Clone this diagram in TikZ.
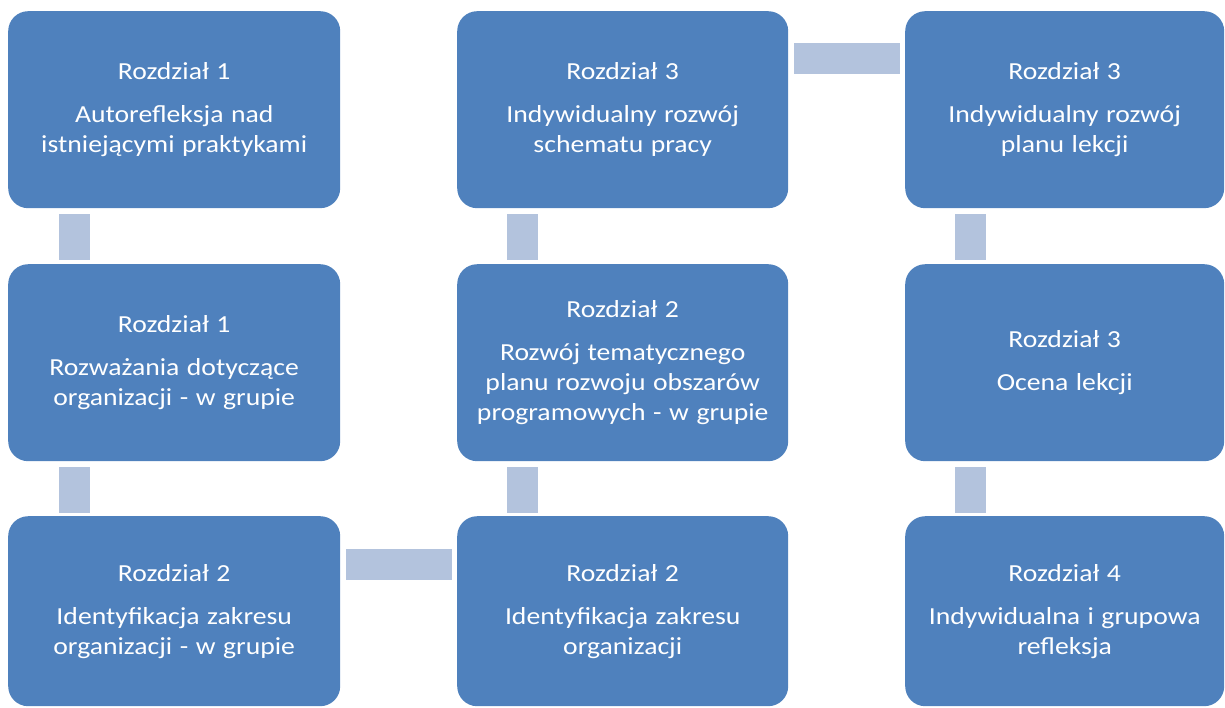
\documentclass[tikz,border=0pt]{standalone}
\usepackage{fontspec}
\setmainfont{Carlito}[FakeStretch=1.13,WordSpace=1.2]
\definecolor{boxblue}{HTML}{4F81BD}
\definecolor{barblue}{HTML}{B3C3DD}
\begin{document}
\begin{tikzpicture}[x=1pt,y=-1pt,
  stepbox/.style={fill=boxblue, rounded corners=20pt, anchor=north west,
    minimum width=332pt, minimum height=197pt, inner sep=0pt,
    text=white, align=center, font=\fontsize{24.5}{30}\selectfont},
  barv/.style={fill=barblue, anchor=north west, minimum width=31pt, minimum height=46pt, inner sep=0pt},
  barh/.style={fill=barblue, anchor=north west, minimum width=106pt, minimum height=31pt, inner sep=0pt}
]
\useasboundingbox (0,0) rectangle (1225,707);
\newcommand{\gapline}{\\[13pt]}
\node[stepbox] (a1) at (8,11) {Rozdział 1\gapline Autorefleksja nad\\istniejącymi praktykami};
\node[stepbox] (a2) at (8,264) {Rozdział 1\gapline Rozważania dotyczące\\organizacji - w grupie};
\node[stepbox, minimum height=190pt] (a3) at (8,516) {Rozdział 2\gapline Identyfikacja zakresu\\organizacji - w grupie};
\node[stepbox, minimum width=331pt, minimum height=190pt] (b3) at (457,516) {Rozdział 2\gapline Identyfikacja zakresu\\organizacji};
\node[stepbox, minimum width=331pt] (b2) at (457,264) {Rozdział 2\gapline Rozwój tematycznego\\planu rozwoju obszarów\\programowych - w grupie};
\node[stepbox, minimum width=331pt] (b1) at (457,11) {Rozdział 3\gapline Indywidualny rozwój\\schematu pracy};
\node[stepbox, minimum width=319pt] (c1) at (905,11) {Rozdział 3\gapline Indywidualny rozwój\\planu lekcji};
\node[stepbox, minimum width=319pt] (c2) at (905,264) {Rozdział 3\gapline Ocena lekcji};
\node[stepbox, minimum width=319pt, minimum height=190pt] (c3) at (905,516) {Rozdział 4\gapline Indywidualna i grupowa\\refleksja};
% connectors
\node[barv] (k1) at ([xshift=51pt,yshift=-5pt]a1.south west) {};
\node[barv] (k2) at ([xshift=51pt,yshift=-5pt]a2.south west) {};
\node[barh] (k3) at ([xshift=5pt,yshift=-33pt]a3.north east) {};
\node[barv] (k4) at ([xshift=50pt,yshift=-5pt]b2.south west) {};
\node[barv] (k5) at ([xshift=50pt,yshift=-5pt]b1.south west) {};
\node[barh] (k6) at ([xshift=5pt,yshift=-32pt]b1.north east) {};
\node[barv] (k7) at ([xshift=50pt,yshift=-5pt]c1.south west) {};
\node[barv] (k8) at ([xshift=50pt,yshift=-5pt]c2.south west) {};
\end{tikzpicture}
\end{document}
